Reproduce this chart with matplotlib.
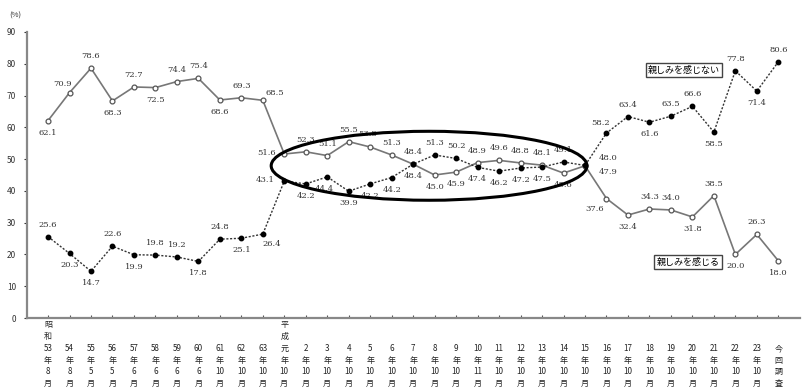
from matplotlib import pyplot as plt
from matplotlib.patches import Ellipse

plt.rcParams['font.family'] = ['Noto Sans CJK JP', 'DejaVu Sans']

periods = ['昭\n和\n53\n年\n8\n月', '54\n年\n8\n月', '55\n年\n5\n月', '56\n年\n5\n月',
           '57\n年\n6\n月', '58\n年\n6\n月', '59\n年\n6\n月', '60\n年\n6\n月',
           '61\n年\n10\n月', '62\n年\n10\n月', '63\n年\n10\n月', '平\n成\n元\n年\n10\n月',
           '2\n年\n10\n月', '3\n年\n10\n月', '4\n年\n10\n月', '5\n年\n10\n月',
           '6\n年\n10\n月', '7\n年\n10\n月', '8\n年\n10\n月', '9\n年\n10\n月',
           '10\n年\n11\n月', '11\n年\n10\n月', '12\n年\n10\n月', '13\n年\n10\n月',
           '14\n年\n10\n月', '15\n年\n10\n月', '16\n年\n10\n月', '17\n年\n10\n月',
           '18\n年\n10\n月', '19\n年\n10\n月', '20\n年\n10\n月', '21\n年\n10\n月',
           '22\n年\n10\n月', '23\n年\n10\n月', '今\n回\n調\n査']

feel = [62.1, 70.9, 78.6, 68.3, 72.7, 72.5, 74.4, 75.4, 68.6, 69.3, 68.5,
        51.6, 52.3, 51.1, 55.5, 53.8, 51.3, 48.4, 45.0, 45.9, 48.9, 49.6,
        48.8, 48.1, 45.6, 47.9, 37.6, 32.4, 34.3, 34.0, 31.8, 38.5, 20.0,
        26.3, 18.0]
not_feel = [25.6, 20.3, 14.7, 22.6, 19.9, 19.8, 19.2, 17.8, 24.8, 25.1, 26.4,
            43.1, 42.2, 44.4, 39.9, 42.2, 44.2, 48.4, 51.3, 50.2, 47.4, 46.2,
            47.2, 47.5, 49.1, 48.0, 58.2, 63.4, 61.6, 63.5, 66.6, 58.5, 77.8,
            71.4, 80.6]

# label placement: offsets in pixels
A, B = (0, 12), (0, -12)
feel_pos = [B, (-7, 9), A, B, A, B, A, A, B, A, (12, 7),
            (-18, 1), A, A, A, (-3, 13), A, A, B, B, A, A,
            A, A, B, (23, -6), (-12, -10), B, A, A, B, A, B,
            A, B]
not_pos = [A, B, B, A, B, A, A, B, A, B, (9, -10),
           (-19, 1), B, (-3, -12), B, B, B, B, A, A, B, B,
           B, B, A, (23, 7), (-6, 10), A, B, A, A, B, A,
           B, A]

x = list(range(len(periods)))

fig = plt.figure(figsize=(8.03, 3.90), dpi=100)
ax = fig.add_axes([0.0336, 0.1846, 0.9624, 0.7334])

ax.plot(x, feel, color='#777777', lw=1.2, marker='o', ms=3.5,
        mfc='white', mec='#555555', mew=0.9, zorder=3)
ax.plot(x, not_feel, color='#333333', lw=1.0, ls=(0, (1.5, 1.2)),
        marker='o', ms=3.2, mfc='black', mec='black', zorder=3)

for i in x:
    ax.annotate(f'{feel[i]:.1f}', (i, feel[i]), xytext=feel_pos[i],
                textcoords='offset pixels', ha='center', va='center',
                fontsize=6, color='#333333', family='DejaVu Serif')
    ax.annotate(f'{not_feel[i]:.1f}', (i, not_feel[i]), xytext=not_pos[i],
                textcoords='offset pixels', ha='center', va='center',
                fontsize=6, color='#333333', family='DejaVu Serif')

ax.add_patch(Ellipse((17.74, 47.9), 14.7, 21.7, fill=False, ec='black',
                     lw=2.2, zorder=4))

ax.text(29.6, 78, '親しみを感じない', fontsize=6.5, ha='center', va='center',
        bbox=dict(boxstyle='square,pad=0.25', fc='white', ec='#444444', lw=1.0))
ax.text(29.8, 17.6, '親しみを感じる', fontsize=6.5, ha='center', va='center',
        bbox=dict(boxstyle='square,pad=0.25', fc='white', ec='#444444', lw=1.0))

ax.set_xlim(-0.98, 35)
ax.set_ylim(0, 90)
ax.set_yticks(range(0, 91, 10))
ax.tick_params(axis='y', labelsize=6, length=2, pad=6, colors='#333333')
ax.set_xticks(x)
ax.set_xticklabels([])
ax.tick_params(axis='x', direction='in', length=2, colors='#555555')

for s in ['top', 'right']:
    ax.spines[s].set_visible(False)
for s in ['left', 'bottom']:
    ax.spines[s].set_color('#888888')
    ax.spines[s].set_linewidth(1.6)

for i, lab in enumerate(periods):
    ax.text(i, -22.1, lab, fontsize=5.8, ha='center', va='bottom',
            linespacing=1.4, color='#222222', clip_on=False)

fig.text(0.012, 0.955, '(%)', fontsize=5.5, color='#333333')

fig.savefig('out.png', dpi=100)
